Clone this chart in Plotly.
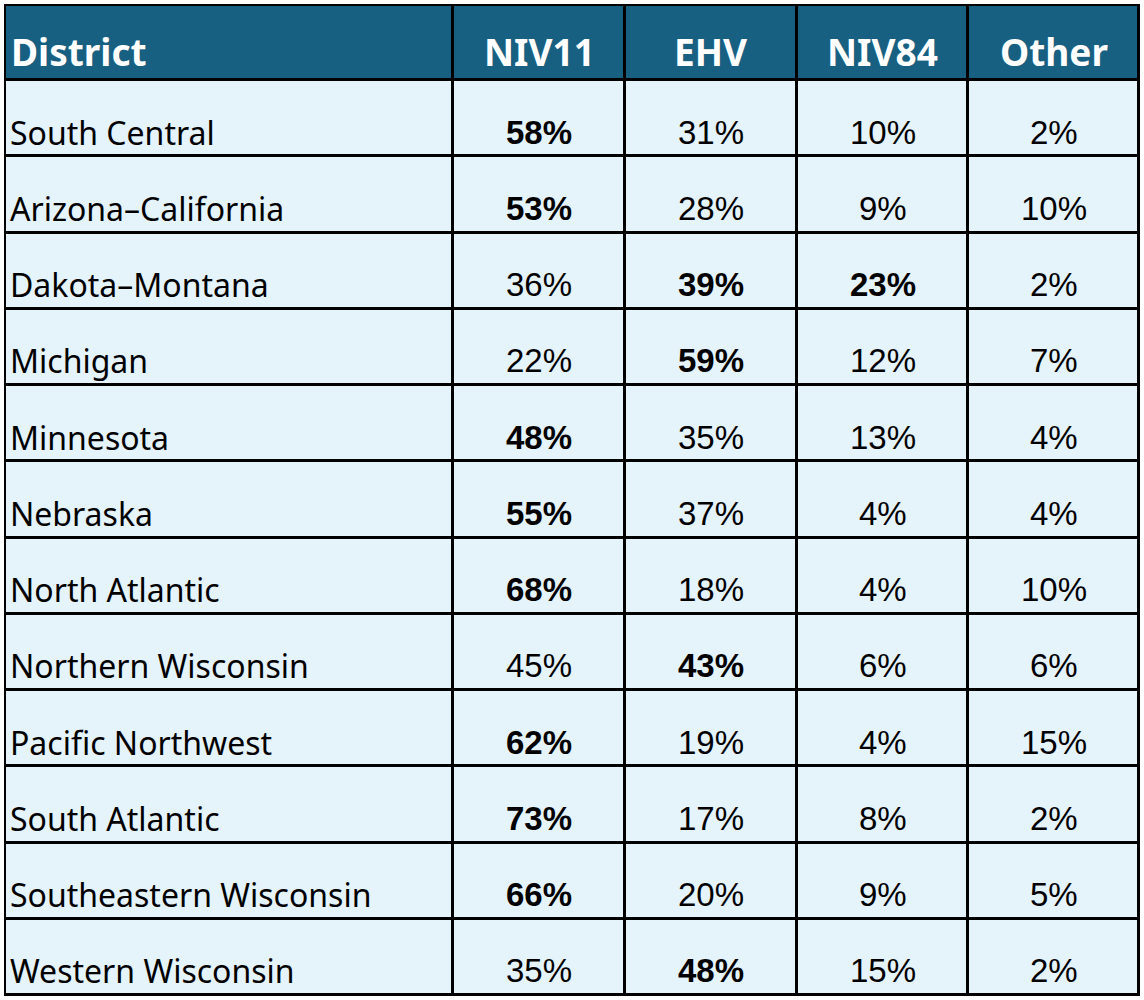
import plotly.graph_objects as go
import numpy as np

columns = ["District", "NIV11", "EHV", "NIV84", "Other"]
districts = ["South Central", "Arizona–California", "Dakota–Montana", "Michigan",
             "Minnesota", "Nebraska", "North Atlantic", "Northern Wisconsin",
             "Pacific Northwest", "South Atlantic", "Southeastern Wisconsin",
             "Western Wisconsin"]
niv11 = [58, 53, 36, 22, 48, 55, 68, 45, 62, 73, 66, 35]
ehv = [31, 28, 39, 59, 35, 37, 18, 43, 19, 17, 20, 48]
niv84 = [10, 9, 23, 12, 13, 4, 4, 6, 4, 8, 9, 15]
other = [2, 10, 2, 7, 4, 4, 10, 6, 15, 2, 5, 2]
# columns shown in bold for each row
bold_cols = [["NIV11"], ["NIV11"], ["EHV", "NIV84"], ["EHV"], ["NIV11"], ["NIV11"],
             ["NIV11"], ["EHV"], ["NIV11"], ["NIV11"], ["NIV11"], ["EHV"]]
series = {"NIV11": niv11, "EHV": ehv, "NIV84": niv84, "Other": other}

# layout / style
col_widths = [448, 172, 172, 171, 171]
header_height = 75
row_height = 76.25
HEADER_BG = "#186082"
CELL_BG = "#e5f3fb"
W, H = 1144, 1000

x_edges = np.concatenate([[0], np.cumsum(col_widths)])
row_heights = [header_height] + [row_height] * len(districts)
y_edges = np.concatenate([[0], np.cumsum(row_heights)])
x_centers = (x_edges[:-1] + x_edges[1:]) / 2
y_centers = (y_edges[:-1] + y_edges[1:]) / 2

z = [[1] * len(columns)] + [[0] * len(columns) for _ in districts]

fig = go.Figure(go.Heatmap(
    x=x_edges, y=y_edges, z=z,
    colorscale=[[0, CELL_BG], [1, HEADER_BG]], zmin=0, zmax=1,
    showscale=False, xgap=3, ygap=3, hoverinfo="skip",
))

annotations = []
# header
for j, c in enumerate(columns):
    left = j == 0
    annotations.append(dict(
        x=x_edges[j] + 4 if left else x_centers[j], y=y_centers[0],
        xanchor="left" if left else "center", yanchor="middle", yshift=-9,
        text=f"<b>{c}</b>", showarrow=False,
        font=dict(family="Noto Sans", size=37, color="white"),
    ))
# body
for i, d in enumerate(districts):
    yc = y_centers[i + 1]
    annotations.append(dict(
        x=x_edges[0] + 3, y=yc, xanchor="left", yanchor="middle", yshift=-14,
        text=d, showarrow=False,
        font=dict(family="Noto Sans", size=32, color="black"),
    ))
    for j, c in enumerate(columns[1:], start=1):
        s = f"{series[c][i]}%"
        if c in bold_cols[i]:
            s = f"<b>{s}</b>"
        annotations.append(dict(
            x=x_centers[j], y=yc, xanchor="center", yanchor="middle", yshift=-14,
            text=s, showarrow=False,
            font=dict(family="Liberation Sans", size=33, color="black"),
        ))

fig.update_layout(
    width=W, height=H, margin=dict(l=4, r=4, t=4, b=4),
    paper_bgcolor="white", plot_bgcolor="black",
    xaxis=dict(range=[-1, x_edges[-1] + 1], visible=False, fixedrange=True),
    yaxis=dict(range=[y_edges[-1] + 1, -1], visible=False, fixedrange=True),
    annotations=annotations, showlegend=False,
)
fig.write_html("out.html", config={"displayModeBar": False},
               post_script="document.body.style.margin='0px';")
